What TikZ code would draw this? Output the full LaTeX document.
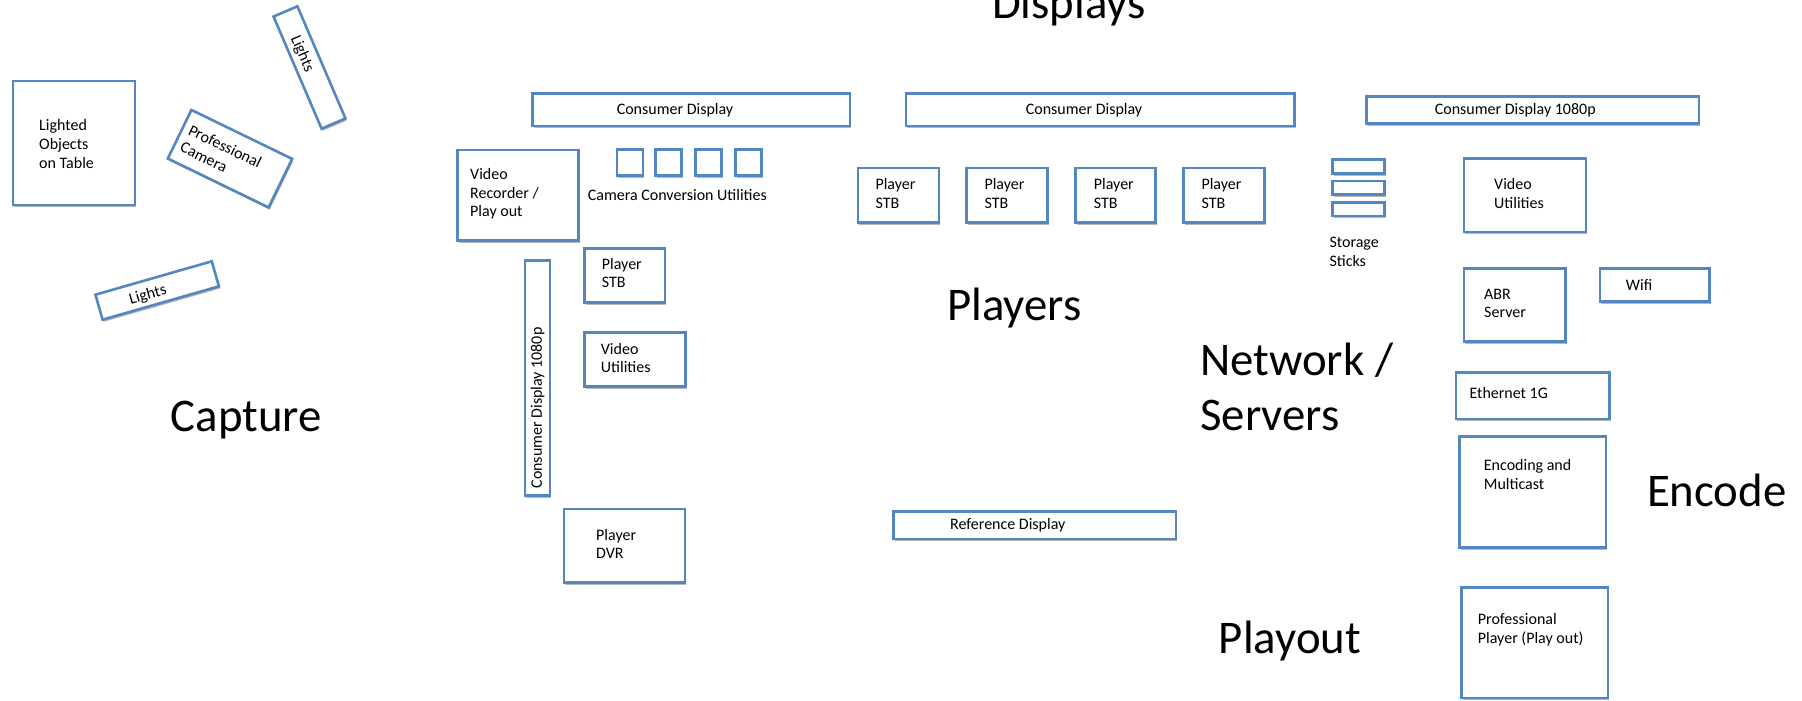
\documentclass[tikz,border=0pt]{standalone}
\usepackage{fontspec}
\setmainfont{Carlito}
\usetikzlibrary{shadows}
\definecolor{edgeblue}{RGB}{84,134,194}
\tikzset{
  unit/.style={draw=edgeblue, line width=2.6pt, fill=white, inner sep=0pt, outer sep=0pt,
    drop shadow={shadow xshift=1.2pt, shadow yshift=-2.2pt, opacity=0.28, fill=black}},
  small/.style={font=\fontsize{16}{18.7}\selectfont, inner sep=0pt, align=left, text=black},
  area/.style={font=\fontsize{46.8}{55}\selectfont, inner sep=0pt, align=left, text=black},
}
% box given by its top-left and bottom-right corners (in px)
\newcommand{\unitbox}[5]{%
  \pgfmathsetmacro{\ubw}{#4-#2}\pgfmathsetmacro{\ubh}{#5-#3}%
  \node[unit, anchor=north west, minimum width=\ubw pt, minimum height=\ubh pt] (#1) at (#2,#3) {};}
\begin{document}
\begin{tikzpicture}[x=1pt, y=-1pt]
\useasboundingbox (0,0) rectangle (1802,701);

% ---------- Capture ----------
\unitbox{objects}{13}{81}{135}{205}
\node[small, anchor=west] (objects-t) at (39,144) {Lighted\\Objects\\on Table};

\node[unit, rotate=-66.8, minimum width=122pt, minimum height=26pt] (lightsA) at (309.5,67.5) {};
\node[small, rotate=-66.8] (lightsA-t) at (302,54) {Lights};

\node[unit, rotate=-25.9, minimum width=112pt, minimum height=54pt] (camera) at (230,158.7) {};
\node[small, rotate=-25.9, anchor=west] (camera-t) at (185.4,137.5) {Professional\\Camera};

\node[unit, rotate=16, minimum width=121pt, minimum height=26pt] (lightsB) at (157.2,290.5) {};
\node[small, rotate=16] (lightsB-t) at (148,295) {Lights};

\node[area, anchor=base] (capture) at (246.2,431.7) {Capture};

% ---------- Displays ----------
\node[area, anchor=base] (displays) at (1069,18.5) {Displays};

\unitbox{cd1}{532.3}{93.3}{850}{126}
\node[small] (cd1-t) at (675,110) {Consumer Display};

\unitbox{cd2}{906}{93.3}{1294.7}{126}
\node[small] (cd2-t) at (1084,110) {Consumer Display};

\unitbox{cd3}{1366.7}{96.7}{1699}{123.3}
\node[small] (cd3-t) at (1515.3,110) {Consumer Display 1080p};

\unitbox{cdv}{525}{260.7}{550}{495.7}
\node[small, rotate=90] (cdv-t) at (537.5,408) {Consumer Display 1080p};

\unitbox{refd}{893.3}{511.7}{1176}{539}
\node[small] (refd-t) at (1007.8,525) {Reference Display};

% ---------- Recording and conversion ----------
\unitbox{recorder}{457.3}{150}{578.3}{240.7}
\node[small, anchor=west] (recorder-t) at (470,194) {Video\\Recorder /\\Play out};

\unitbox{conv1}{617}{149.3}{643}{175.7}
\unitbox{conv2}{655.7}{149.3}{681.7}{175.7}
\unitbox{conv3}{695.7}{149.3}{721.7}{175.7}
\unitbox{conv4}{735.3}{149.3}{761.3}{175.7}
\node[small, anchor=west] (conv-t) at (587.7,195) {Camera Conversion Utilities};

\unitbox{stb0}{584.7}{248.3}{665}{302.3}
\node[small, anchor=west] (stb0-t) at (601.7,273) {Player\\STB};

\unitbox{vutilA}{584.3}{332.7}{685.7}{386.7}
\node[small, anchor=west] (vutilA-t) at (600.7,358) {Video\\Utilities};

\unitbox{dvr}{564}{509}{685}{582.3}
\node[small, anchor=west] (dvr-t) at (596,544) {Player\\DVR};

% ---------- Players ----------
\unitbox{stb1}{858}{168}{939}{222.7}
\node[small, anchor=west] (stb1-t) at (875.3,193.7) {Player\\STB};
\unitbox{stb2}{966.3}{168}{1047.3}{222.7}
\node[small, anchor=west] (stb2-t) at (984.3,193.7) {Player\\STB};
\unitbox{stb3}{1075.3}{168}{1155.7}{222.7}
\node[small, anchor=west] (stb3-t) at (1093.7,193.7) {Player\\STB};
\unitbox{stb4}{1183.7}{168}{1264.3}{222.7}
\node[small, anchor=west] (stb4-t) at (1201.3,193.7) {Player\\STB};

\node[area, anchor=base] (players) at (1014.2,320.7) {Players};

% ---------- Network / Servers ----------
\unitbox{stick1}{1332.3}{159.3}{1384.7}{173.3}
\unitbox{stick2}{1332.3}{181}{1384.7}{194.3}
\unitbox{stick3}{1332.3}{202.7}{1384.7}{216}
\node[small, anchor=west] (sticks-t) at (1329.3,251.7) {Storage\\Sticks};

\unitbox{vutilB}{1464}{158.7}{1586}{232}
\node[small, anchor=west] (vutilB-t) at (1494,193.5) {Video\\Utilities};

\unitbox{abr}{1464}{268.3}{1565.7}{341.7}
\node[small, anchor=west] (abr-t) at (1484,303.3) {ABR\\Server};

\unitbox{wifi}{1600}{268.3}{1709.3}{301.3}
\node[small, anchor=west] (wifi-t) at (1625.7,284.7) {Wifi};

\unitbox{eth}{1456}{372.7}{1609.3}{419}
\node[small, anchor=west] (eth-t) at (1469.3,392.7) {Ethernet 1G};

\node[area, anchor=west] (network) at (1200,387.2) {Network /\\Servers};

% ---------- Encode / Playout ----------
\unitbox{encoder}{1459.3}{436.7}{1606}{547.7}
\node[small, anchor=west] (encoder-t) at (1483.7,474.5) {Encoding and\\Multicast};
\node[area, anchor=base] (encode) at (1716.7,506.7) {Encode};

\unitbox{proplayer}{1461.3}{587.3}{1608}{698}
\node[small, anchor=west] (proplayer-t) at (1477.7,630) {Professional\\Player (Play out)};
\node[area, anchor=base] (playout) at (1290,653.3) {Playout};
\end{tikzpicture}
\end{document}
